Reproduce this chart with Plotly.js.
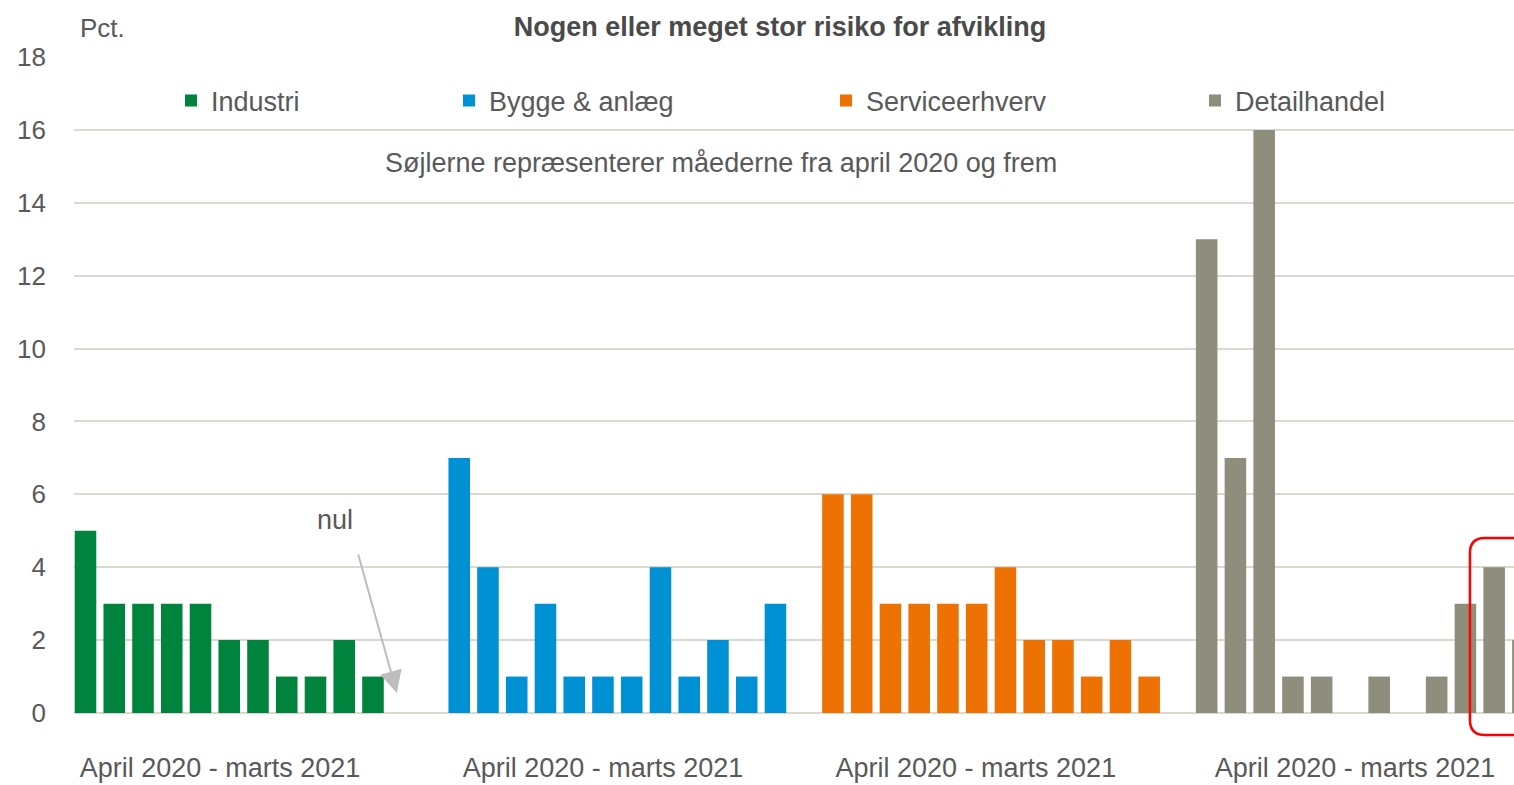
<!DOCTYPE html>
<html>
<head>
<meta charset="utf-8">
<script src="https://cdn.plot.ly/plotly-3.0.1.min.js"></script>
<style>html,body{margin:0;padding:0;background:#fff;}#chart{width:1514px;height:785px;}</style>
</head>
<body>
<div id="chart"></div>
<script>
// Data (pct., months April 2020 - March 2021)
var seriesNames = ["Industri", "Bygge & anlæg", "Serviceerhverv", "Detailhandel"];
var industri      = [5, 3, 3, 3, 3, 2, 2, 1, 1, 2, 1, 0];
var byggeAnlaeg   = [7, 4, 1, 3, 1, 1, 1, 4, 1, 2, 1, 3];
var service       = [6, 6, 3, 3, 3, 3, 4, 2, 2, 1, 2, 1];
var detailhandel  = [13, 7, 16, 1, 1, 0, 1, 0, 1, 3, 4, 2];
var groupLabel = "April 2020 - marts 2021";
var yTicks = [0, 2, 4, 6, 8, 10, 12, 14, 16, 18];

var colors = ["#00843d", "#0091d5", "#ee7203", "#8f8d7c"];
var FONT = "'Liberation Sans', Arial, sans-serif";
var TXT = "#595959";

var allSeries = [industri, byggeAnlaeg, service, detailhandel];
var legendIds = ["legend", "legend2", "legend3", "legend4"];
var traces = allSeries.map(function (vals, g) {
  var start = g * (vals.length + 1);
  return {
    type: "bar",
    name: seriesNames[g],
    x: vals.map(function (_, i) { return start + i; }),
    y: vals,
    width: 0.75,
    marker: { color: colors[g], line: { width: 0 } },
    legend: legendIds[g],
    hoverinfo: "y+name"
  };
});

var groupCenters = [4.68, 18.0, 30.97, 44.16];

function legendAt(px) {
  return {
    orientation: "h", xref: "paper", yref: "paper",
    x: (px - 74) / 1440, xanchor: "left", y: (713 - 101) / 656, yanchor: "middle",
    bgcolor: "rgba(0,0,0,0)", borderwidth: 0,
    font: { family: FONT, size: 27, color: TXT }
  };
}

var layout = {
  width: 1514, height: 785,
  margin: { l: 74, r: 0, t: 57, b: 72 },
  paper_bgcolor: "#ffffff", plot_bgcolor: "#ffffff",
  font: { family: FONT, color: TXT },
  title: {
    text: "<b>Nogen eller meget stor risiko for afvikling</b>",
    font: { family: FONT, size: 27, color: "#4a4a4a" },
    xref: "container", yref: "container",
    x: 780 / 1514, xanchor: "center", y: 1 - 27 / 785, yanchor: "middle"
  },
  showlegend: true,
  legend: legendAt(171),
  legend2: legendAt(449),
  legend3: legendAt(826),
  legend4: legendAt(1195),
  xaxis: {
    range: [-0.4, 49.69],
    tickvals: groupCenters,
    ticktext: [groupLabel, groupLabel, groupLabel, groupLabel],
    ticks: "", showgrid: false, zeroline: false, showline: false,
    tickfont: { family: FONT, size: 27, color: TXT },
    ticklabelstandoff: 36, automargin: false
  },
  yaxis: {
    range: [0, 18],
    tickvals: yTicks,
    ticks: "", showgrid: true, gridcolor: "#d9d9d0", gridwidth: 2,
    zeroline: true, zerolinecolor: "#d9d9d0", zerolinewidth: 2,
    showline: false,
    tickfont: { family: FONT, size: 26, color: TXT },
    ticklabelstandoff: 27, automargin: false
  },
  annotations: [
    { xref: "paper", yref: "paper", x: 4 / 1440, xanchor: "left",
      y: (713 - 28) / 656, yanchor: "middle", text: "Pct.", showarrow: false,
      font: { family: FONT, size: 26, color: TXT } },
    { xref: "paper", yref: "paper", x: (721 - 74) / 1440, xanchor: "center",
      y: (713 - 163) / 656, yanchor: "middle",
      text: "Søjlerne repræsenterer måederne fra april 2020 og frem", showarrow: false,
      font: { family: FONT, size: 27, color: TXT } },
    { xref: "x", yref: "y", x: 8.68, y: 5.3, text: "nul", showarrow: false,
      font: { family: FONT, size: 27, color: TXT } },
    { xref: "x", yref: "y", x: 10.83, y: 0.55, text: "", showarrow: true,
      ax: -39, ay: -140, arrowhead: 2, arrowsize: 2.2, arrowwidth: 2,
      arrowcolor: "#bdbdbd", standoff: 0 }
  ],
  shapes: [
    { type: "path", xref: "paper", yref: "paper",
      path: "M 1.02,0.2668 L 0.9798,0.2668 Q 0.9694,0.2668 0.9694,0.2439 L 0.9694,-0.0106 Q 0.9694,-0.0335 0.9798,-0.0335 L 1.02,-0.0335",
      line: { color: "#ff0000", width: 2.5 } }
  ]
};

Plotly.newPlot("chart", traces, layout, { displayModeBar: false, responsive: false });
</script>
</body>
</html>
